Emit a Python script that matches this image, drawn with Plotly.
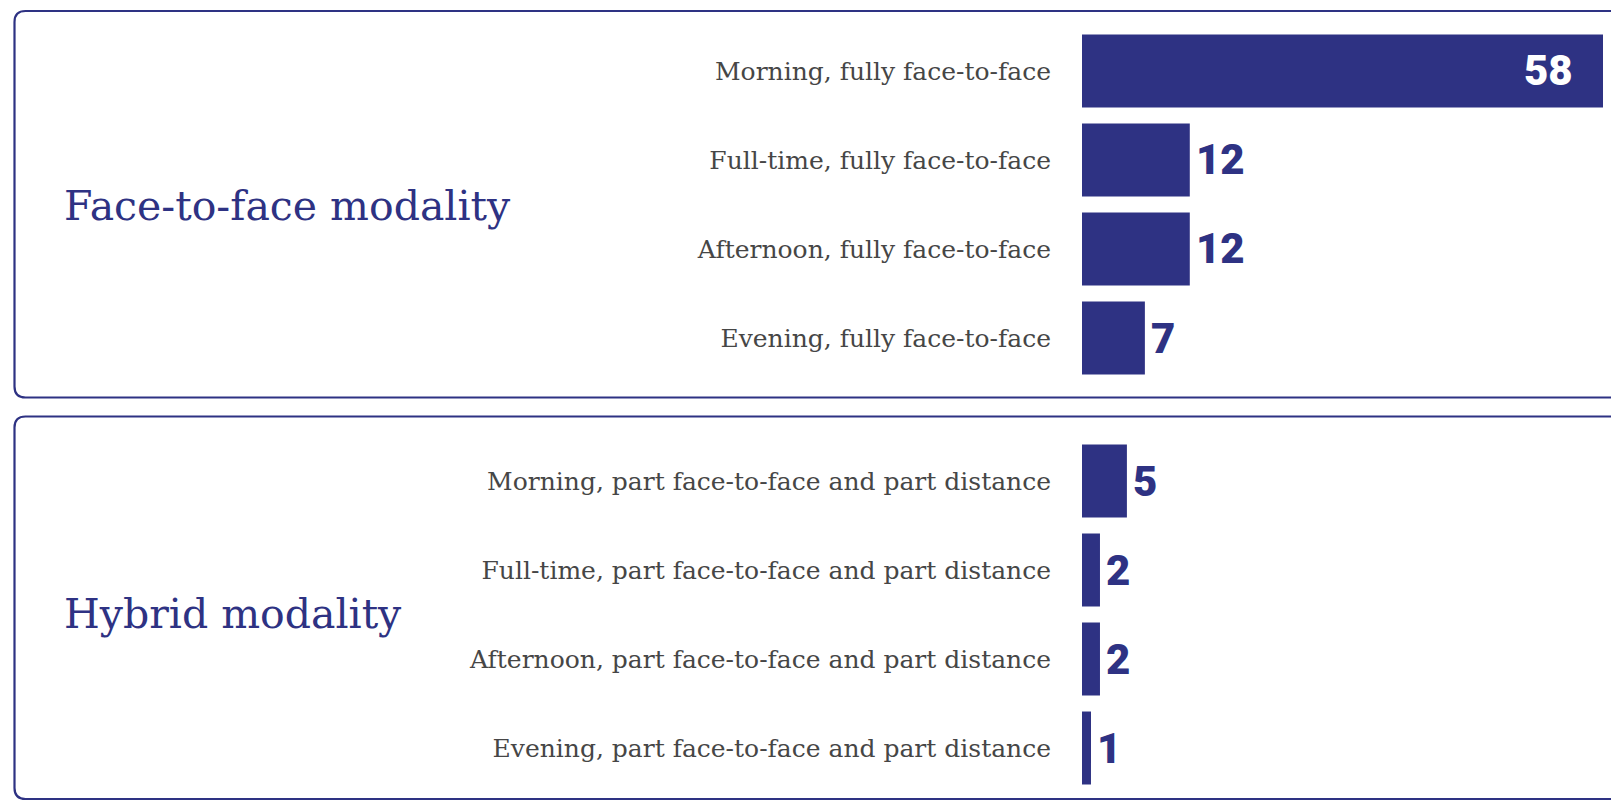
import plotly.graph_objects as go

W, H = 1611, 801
NAVY = "#2E3283"
GRAY = "#464646"

# ---- data ----
group_titles = ["Face-to-face modality", "Hybrid modality"]
face_categories = [
    "Morning, fully face-to-face",
    "Full-time, fully face-to-face",
    "Afternoon, fully face-to-face",
    "Evening, fully face-to-face",
]
face_values = [58, 12, 12, 7]
hybrid_categories = [
    "Morning, part face-to-face and part distance",
    "Full-time, part face-to-face and part distance",
    "Afternoon, part face-to-face and part distance",
    "Evening, part face-to-face and part distance",
]
hybrid_values = [5, 2, 2, 1]

# ---- layout helpers (pixel -> paper) ----
def px(x):
    return x / W

def py(y):
    return 1 - y / H

def rounded_panel(x0, y0, x1, y1, r):
    pts = [
        f"M {px(x0 + r)},{py(y0)}",
        f"L {px(x1 - r)},{py(y0)}",
        f"Q {px(x1)},{py(y0)} {px(x1)},{py(y0 + r)}",
        f"L {px(x1)},{py(y1 - r)}",
        f"Q {px(x1)},{py(y1)} {px(x1 - r)},{py(y1)}",
        f"L {px(x0 + r)},{py(y1)}",
        f"Q {px(x0)},{py(y1)} {px(x0)},{py(y1 - r)}",
        f"L {px(x0)},{py(y0 + r)}",
        f"Q {px(x0)},{py(y0)} {px(x0 + r)},{py(y0)}",
        "Z",
    ]
    return dict(type="path", xref="paper", yref="paper", path=" ".join(pts),
                line=dict(color=NAVY, width=2.2), fillcolor="rgba(0,0,0,0)", layer="below")

bar_x0 = 1082
bar_x_max = 1603
xmax = max(face_values) * (W - bar_x0) / (bar_x_max - bar_x0)

fig = go.Figure()
fig.add_trace(go.Bar(y=face_categories, x=face_values, orientation="h",
                     marker=dict(color=NAVY, line=dict(width=0)), width=0.82,
                     xaxis="x", yaxis="y", hoverinfo="x+y"))
fig.add_trace(go.Bar(y=hybrid_categories, x=hybrid_values, orientation="h",
                     marker=dict(color=NAVY, line=dict(width=0)), width=0.82,
                     xaxis="x2", yaxis="y2", hoverinfo="x+y"))

label_font = dict(family="DejaVu Serif, serif", size=25, color=GRAY)
value_font_family = "Roboto, sans-serif"

ax_common = dict(visible=False, range=[0, xmax], domain=[px(bar_x0), 1], fixedrange=True)
ycommon = dict(type="category", autorange="reversed", showgrid=False, zeroline=False,
               showline=False, ticks="", tickfont=label_font, ticklabelstandoff=30)

row_h = 89
top_first, bot_first = 71, 481
fig.update_layout(
    width=W, height=H,
    margin=dict(l=0, r=0, t=0, b=0),
    paper_bgcolor="white", plot_bgcolor="white",
    showlegend=False,
    xaxis=dict(**ax_common, anchor="y"),
    xaxis2=dict(**ax_common, anchor="y2"),
    yaxis=dict(**ycommon, domain=[py(top_first + 3.5 * row_h), py(top_first - 0.5 * row_h)], anchor="x"),
    yaxis2=dict(**ycommon, domain=[py(bot_first + 3.5 * row_h), py(bot_first - 0.5 * row_h)], anchor="x2"),
    shapes=[
        rounded_panel(14.5, 11, 1640, 397.5, 11),
        rounded_panel(14.5, 416.5, 1640, 799, 11),
    ],
)

annotations = []
vmax = max(face_values + hybrid_values)
for cats, vals, xr, yr in [(face_categories, face_values, "x", "y"),
                           (hybrid_categories, hybrid_values, "x2", "y2")]:
    for c, v in zip(cats, vals):
        inside = v == vmax
        annotations.append(dict(
            x=v, y=c, xref=xr, yref=yr, text=str(v), showarrow=False,
            xanchor="right" if inside else "left",
            xshift=-28 if inside else 4,
            font=dict(family=value_font_family, size=42, weight=900,
                      color="white" if inside else NAVY),
        ))

title_font = dict(family="DejaVu Serif, serif", size=41, color=NAVY)
for t, yc in zip(group_titles, [206, 614]):
    annotations.append(dict(x=px(62), y=py(yc), xref="paper", yref="paper", text=t,
                            showarrow=False, xanchor="left", yanchor="middle", font=title_font))

fig.update_layout(annotations=annotations)

fig.write_html("out.html", config={"displayModeBar": False},
               post_script="document.body.style.margin='0';document.body.style.overflow='hidden';")
